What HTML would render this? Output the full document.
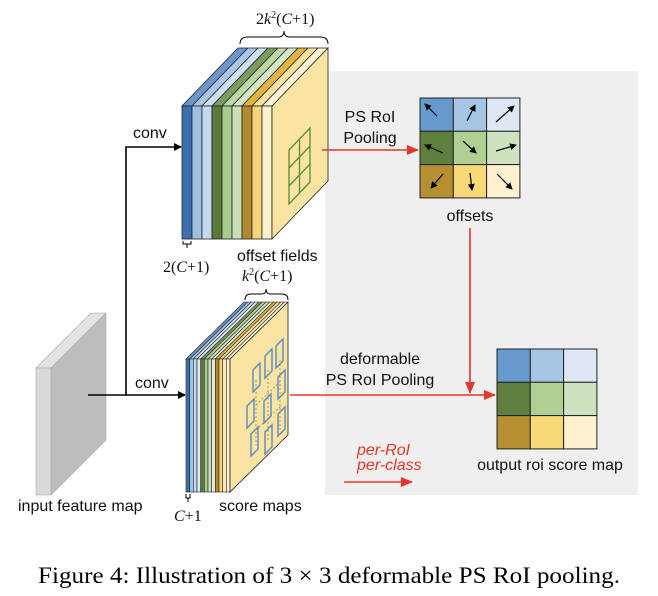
<!DOCTYPE html>
<html><head><meta charset="utf-8"><style>
html,body{margin:0;padding:0;background:#fff;}
svg{display:block;}
.s{font-family:"Liberation Sans",sans-serif;font-size:16px;fill:#111;}
.t{font-family:"Liberation Serif",serif;font-size:16px;fill:#111;}
</style></head><body>
<svg width="658" height="596" viewBox="0 0 658 596" xmlns="http://www.w3.org/2000/svg">
<defs>
<marker id="ab" markerWidth="8" markerHeight="8" refX="7" refY="4" orient="auto" markerUnits="userSpaceOnUse"><path d="M0,0 L8,4 L0,8z" fill="#000"/></marker>
<marker id="ar" markerWidth="12" markerHeight="10" refX="11" refY="5" orient="auto" markerUnits="userSpaceOnUse"><path d="M0,0 L12,5 L0,10z" fill="#e8352a"/></marker>
<marker id="as" markerWidth="7" markerHeight="7" refX="6" refY="3.5" orient="auto" markerUnits="userSpaceOnUse"><path d="M0,0 L7,3.5 L0,7z" fill="#000"/></marker>
</defs>
<rect x="325" y="71" width="313" height="424" fill="#efefef"/>

<!-- input feature map -->
<polygon points="51,368 106,313 106,440 51,495" fill="#bdbdbd" stroke="#aaa" stroke-width="0.6"/>
<polygon points="36,368 91,313 106,313 51,368" fill="#e3e3e3" stroke="#aaa" stroke-width="0.6"/>
<rect x="36" y="368" width="15" height="127" fill="#d9d9d9" stroke="#aaa" stroke-width="0.6"/>

<!-- black connectors -->
<polyline points="88,395 126,395 126,147 181,147" fill="none" stroke="#000" stroke-width="1.6" marker-end="url(#ab)"/>
<line x1="126" y1="395" x2="185" y2="395" stroke="#000" stroke-width="1.6" marker-end="url(#ab)"/>
<text class="s" x="133" y="138">conv</text>
<text class="s" x="135" y="388">conv</text>

<!-- top block -->
<g stroke="#222" stroke-width="0.8">
<polygon points="182,106 192,106 248,48 238,48" fill="#6d96cc"/>
<polygon points="192,106 202,106 258,48 248,48" fill="#a9c6e6"/>
<polygon points="202,106 212,106 268,48 258,48" fill="#cfe0f1"/>
<polygon points="212,106 222,106 278,48 268,48" fill="#7f9c5e"/>
<polygon points="222,106 232,106 288,48 278,48" fill="#bcd8a4"/>
<polygon points="232,106 242,106 298,48 288,48" fill="#d6e7c8"/>
<polygon points="242,106 252,106 308,48 298,48" fill="#e2b43c"/>
<polygon points="252,106 262,106 318,48 308,48" fill="#f9e29b"/>
<polygon points="262,106 272,106 328,48 318,48" fill="#fdf3d6"/>
<rect x="182" y="106" width="10" height="133" fill="#3e6fb0"/>
<rect x="192" y="106" width="10" height="133" fill="#9dbfe0"/>
<rect x="202" y="106" width="10" height="133" fill="#c5d9ee"/>
<rect x="212" y="106" width="10" height="133" fill="#5a7a3a"/>
<rect x="222" y="106" width="10" height="133" fill="#a8cc8c"/>
<rect x="232" y="106" width="10" height="133" fill="#c9deb9"/>
<rect x="242" y="106" width="10" height="133" fill="#b08a30"/>
<rect x="252" y="106" width="10" height="133" fill="#f6d57a"/>
<rect x="262" y="106" width="10" height="133" fill="#fdf0cc"/>
<polygon points="272,106 328,48 328,181 272,239" fill="#f9e4a4"/>
</g>
<g stroke="#5a8a3a" stroke-width="1.3" fill="none">
<polygon points="289,150 310,128 310,182 289,204"/>
<line x1="299.5" y1="139" x2="299.5" y2="193"/>
<line x1="289" y1="168" x2="310" y2="146"/>
<line x1="289" y1="186" x2="310" y2="164"/>
</g>
<path d="M240,44 Q240,37 248,37 L278,37 Q284,37 284,31 Q284,37 290,37 L320,37 Q328,37 328,44" fill="none" stroke="#000" stroke-width="1"/>
<text class="t" x="256" y="24">2<tspan font-style="italic">k</tspan><tspan font-size="10" dy="-6">2</tspan><tspan dy="6">(</tspan><tspan font-style="italic">C</tspan>+1)</text>
<path d="M183,241 v3 h8 v-3 M187,244 v4" fill="none" stroke="#000" stroke-width="1"/>
<text class="t" x="163" y="272">2(<tspan font-style="italic">C</tspan>+1)</text>
<text class="s" x="237" y="261">offset fields</text>

<!-- bottom block -->
<g stroke="#222" stroke-width="0.6">
<polygon points="186,359 189.7,359 247.7,302 244,302" fill="#6d96cc"/>
<polygon points="189.7,359 193.3,359 251.3,302 247.7,302" fill="#a9c6e6"/>
<polygon points="193.3,359 197,359 255,302 251.3,302" fill="#cfe0f1"/>
<polygon points="197,359 200.7,359 258.7,302 255,302" fill="#e3ecf6"/>
<polygon points="200.7,359 204.3,359 262.3,302 258.7,302" fill="#7f9c5e"/>
<polygon points="204.3,359 208,359 266,302 262.3,302" fill="#bcd8a4"/>
<polygon points="208,359 211.7,359 269.7,302 266,302" fill="#d6e7c8"/>
<polygon points="211.7,359 215.3,359 273.3,302 269.7,302" fill="#e6efdc"/>
<polygon points="215.3,359 219,359 277,302 273.3,302" fill="#e2b43c"/>
<polygon points="219,359 222.7,359 280.7,302 277,302" fill="#f9e29b"/>
<polygon points="222.7,359 226.3,359 284.3,302 280.7,302" fill="#fcebbd"/>
<polygon points="226.3,359 230,359 288,302 284.3,302" fill="#fdf3d6"/>
<rect x="186" y="359" width="3.7" height="133" fill="#3e6fb0"/>
<rect x="189.7" y="359" width="3.7" height="133" fill="#9dbfe0"/>
<rect x="193.3" y="359" width="3.7" height="133" fill="#c5d9ee"/>
<rect x="197" y="359" width="3.7" height="133" fill="#dfe9f5"/>
<rect x="200.7" y="359" width="3.7" height="133" fill="#5a7a3a"/>
<rect x="204.3" y="359" width="3.7" height="133" fill="#a8cc8c"/>
<rect x="208" y="359" width="3.7" height="133" fill="#c9deb9"/>
<rect x="211.7" y="359" width="3.7" height="133" fill="#e0ecd6"/>
<rect x="215.3" y="359" width="3.7" height="133" fill="#b08a30"/>
<rect x="219" y="359" width="3.7" height="133" fill="#f6d57a"/>
<rect x="222.7" y="359" width="3.7" height="133" fill="#fbe7b0"/>
<rect x="226.3" y="359" width="3.7" height="133" fill="#fdf3d8"/>
<polygon points="230,359 288,302 288,435 230,492" fill="#f9e4a4" stroke-width="0.8"/>
</g>
<g fill="none" stroke="#5a8ac0" stroke-width="1.4">
<polygon points="253,370 260,363 260,385 253,392"/>
<polygon points="265,356 272,349 272,371 265,378"/>
<polygon points="276,346 283,339 283,361 276,368"/>
<polygon points="278,377 285,370 285,392 278,399"/>
<polygon points="247,406 254,399 254,421 247,428"/>
<polygon points="264,401 271,394 271,416 264,423"/>
<polygon points="278,414 285,407 285,429 278,436"/>
<polygon points="251,434 258,427 258,449 251,456"/>
<polygon points="265,432 272,425 272,447 265,454"/>
</g>
<g fill="none" stroke="#8a8a5a" stroke-width="0.8" stroke-dasharray="2,2">
<line x1="256" y1="380" x2="256" y2="445"/><line x1="268" y1="370" x2="268" y2="440"/><line x1="280" y1="360" x2="280" y2="430"/>
<line x1="256" y1="405" x2="282" y2="380"/><line x1="256" y1="430" x2="282" y2="405"/>
</g>
<path d="M245,300 Q245,294 251,294 L262,294 Q266,294 266,289 Q266,294 270,294 L282,294 Q288,294 288,300" fill="none" stroke="#000" stroke-width="1"/>
<text class="t" x="242" y="281"><tspan font-style="italic">k</tspan><tspan font-size="10" dy="-6">2</tspan><tspan dy="6">(</tspan><tspan font-style="italic">C</tspan>+1)</text>
<path d="M186,494 v4 h4 v-4 M188,498 v4" fill="none" stroke="#000" stroke-width="1"/>
<text class="t" x="174" y="521"><tspan font-style="italic">C</tspan>+1</text>
<text class="s" x="219" y="511">score maps</text>
<text class="s" x="18" y="511">input feature map</text>

<!-- red connectors -->
<line x1="322" y1="150" x2="418" y2="150" stroke="#e8352a" stroke-width="1.6" marker-end="url(#ar)"/>
<line x1="290" y1="395" x2="495" y2="395" stroke="#e8352a" stroke-width="1.6" marker-end="url(#ar)"/>
<line x1="470" y1="228" x2="470" y2="393" stroke="#e8352a" stroke-width="1.6" marker-end="url(#ar)"/>
<line x1="344" y1="482" x2="412" y2="482" stroke="#e8352a" stroke-width="1.6" marker-end="url(#ar)"/>
<text class="s" x="370" y="122" text-anchor="middle">PS RoI</text>
<text class="s" x="370" y="143" text-anchor="middle">Pooling</text>
<text class="s" x="380" y="364" text-anchor="middle">deformable</text>
<text class="s" x="380" y="385" text-anchor="middle">PS RoI Pooling</text>
<text class="s" x="357" y="455" font-style="italic" font-size="13" style="fill:#e8352a">per-RoI</text>
<text class="s" x="357" y="470" font-style="italic" font-size="13" style="fill:#e8352a">per-class</text>

<!-- offsets grid -->
<g stroke="#222" stroke-width="1">
<rect x="420" y="98" width="33.3" height="33.3" fill="#6699cc"/>
<rect x="453.3" y="98" width="33.3" height="33.3" fill="#a6c4e4"/>
<rect x="486.6" y="98" width="33.3" height="33.3" fill="#dde8f4"/>
<rect x="420" y="131.3" width="33.3" height="33.3" fill="#5f7f3f"/>
<rect x="453.3" y="131.3" width="33.3" height="33.3" fill="#b0d093"/>
<rect x="486.6" y="131.3" width="33.3" height="33.3" fill="#cfe2bf"/>
<rect x="420" y="164.6" width="33.3" height="33.3" fill="#b68f33"/>
<rect x="453.3" y="164.6" width="33.3" height="33.3" fill="#f8d877"/>
<rect x="486.6" y="164.6" width="33.3" height="33.3" fill="#fdf1cf"/>
</g>
<g stroke="#000" stroke-width="1.2" marker-end="url(#as)">
<line x1="437" y1="116" x2="425" y2="104"/>
<line x1="467" y1="121" x2="475" y2="105"/>
<line x1="496" y1="122" x2="514" y2="106"/>
<line x1="443" y1="153" x2="425" y2="145"/>
<line x1="463" y1="141" x2="476" y2="153"/>
<line x1="496" y1="151" x2="516" y2="145"/>
<line x1="443" y1="174" x2="431" y2="188"/>
<line x1="470" y1="173" x2="472" y2="190"/>
<line x1="497" y1="174" x2="512" y2="189"/>
</g>
<text class="s" x="470" y="221" text-anchor="middle">offsets</text>

<!-- output grid -->
<g stroke="#222" stroke-width="1">
<rect x="497" y="349" width="33.3" height="33.3" fill="#6699cc"/>
<rect x="530.3" y="349" width="33.3" height="33.3" fill="#a6c4e4"/>
<rect x="563.6" y="349" width="33.3" height="33.3" fill="#dde8f4"/>
<rect x="497" y="382.3" width="33.3" height="33.3" fill="#5f7f3f"/>
<rect x="530.3" y="382.3" width="33.3" height="33.3" fill="#b0d093"/>
<rect x="563.6" y="382.3" width="33.3" height="33.3" fill="#cfe2bf"/>
<rect x="497" y="415.6" width="33.3" height="33.3" fill="#b68f33"/>
<rect x="530.3" y="415.6" width="33.3" height="33.3" fill="#f8d877"/>
<rect x="563.6" y="415.6" width="33.3" height="33.3" fill="#fdf1cf"/>
</g>
<text class="s" x="550" y="470" text-anchor="middle">output roi score map</text>

<text x="38" y="583" font-family="Liberation Serif,serif" font-size="23.5" fill="#000" textLength="582" lengthAdjust="spacingAndGlyphs">Figure 4: Illustration of 3 × 3 deformable PS RoI pooling.</text>
</svg>
</body></html>
